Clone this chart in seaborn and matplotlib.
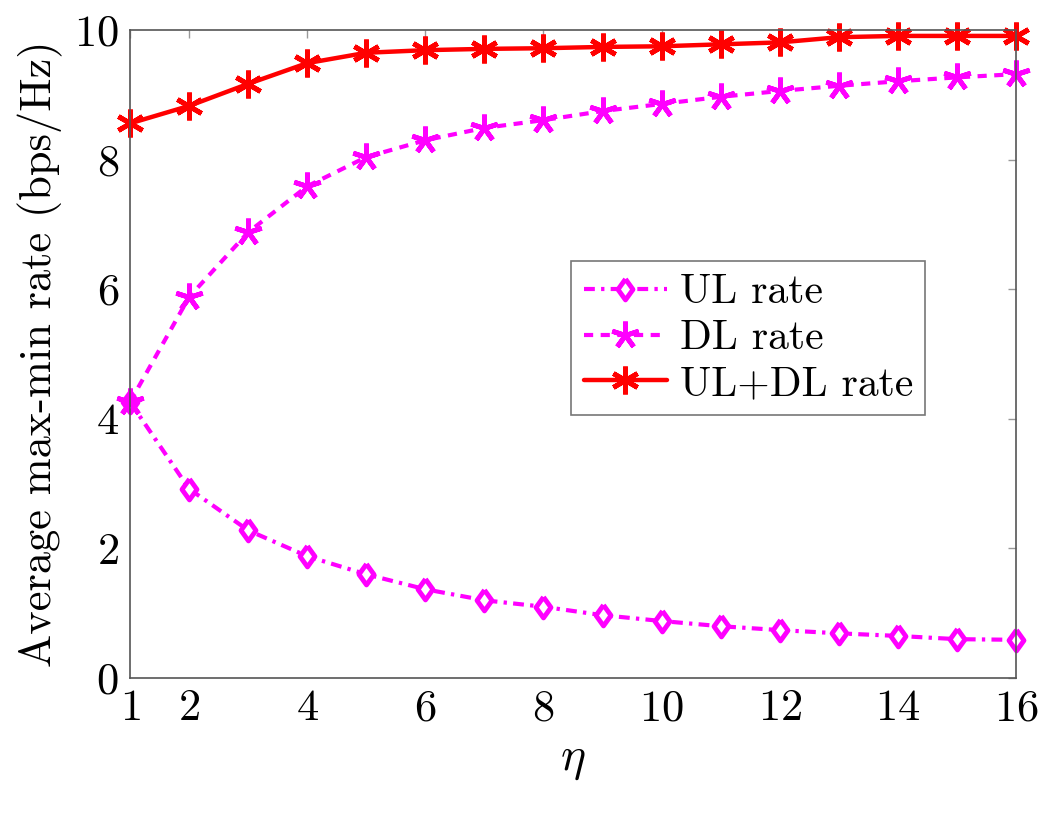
import matplotlib
matplotlib.use("Agg")
import matplotlib.pyplot as plt
import seaborn as sns
import pandas as pd

eta = list(range(1, 17))
ul_rate = [4.26, 2.92, 2.28, 1.88, 1.60, 1.37, 1.20, 1.10, 0.97, 0.88, 0.80, 0.74, 0.69, 0.65, 0.60, 0.59]
dl_rate = [4.26, 5.88, 6.88, 7.59, 8.04, 8.30, 8.49, 8.61, 8.75, 8.86, 8.97, 9.06, 9.14, 9.21, 9.27, 9.32]
sum_rate = [8.56, 8.83, 9.17, 9.49, 9.65, 9.69, 9.71, 9.72, 9.74, 9.75, 9.78, 9.81, 9.89, 9.91, 9.91, 9.91]
series_names = ["UL rate", "DL rate", "UL+DL rate"]
x_ticks = [1, 2, 4, 6, 8, 10, 12, 14, 16]
y_ticks = [0, 2, 4, 6, 8, 10]

sns.set_theme(style="white")
plt.rcParams["font.family"] = ["cmr10", "DejaVu Serif"]
plt.rcParams["mathtext.fontset"] = "cm"
plt.rcParams["axes.formatter.use_mathtext"] = True
plt.rcParams["text.color"] = "black"
plt.rcParams["axes.labelcolor"] = "black"
plt.rcParams["xtick.labelcolor"] = "black"
plt.rcParams["ytick.labelcolor"] = "black"

fig = plt.figure(figsize=(10.42, 8.13), dpi=100)
ax = fig.add_axes([0.1248, 0.166, 0.8502, 0.797])

magenta = "#ff00ff"
red = "#ff0000"
diamond = [(0, 1), (0.72, 0), (0, -1), (-0.72, 0), (0, 1)]

sns.lineplot(x=eta, y=ul_rate, ax=ax, color=magenta, lw=3.0, marker=diamond,
             markersize=15, markerfacecolor="white", markeredgecolor=magenta,
             markeredgewidth=3.5, label=series_names[0], clip_on=False)
ax.lines[-1].set_dashes([2.6, 1.5, 0.8, 1.5])
sns.lineplot(x=eta, y=dl_rate, ax=ax, color=magenta, lw=3.0, marker=(5, 2, 0),
             markersize=20, markeredgecolor=magenta, markeredgewidth=3.5,
             label=series_names[1], clip_on=False)
ax.lines[-1].set_dashes([2.2, 1.8])
sns.lineplot(x=eta, y=sum_rate, ax=ax, color=red, lw=3.2, marker=(6, 2, 0),
             markersize=20, markeredgecolor=red, markeredgewidth=3.5,
             label=series_names[2], clip_on=False)

ax.set_xlim(1, 16)
ax.set_ylim(0, 10)
ax.set_xticks(x_ticks)
ax.set_yticks(y_ticks)
ax.tick_params(direction="in", length=6, width=1, color="#999999",
               labelsize=32, labelcolor="black", top=True, right=True, pad=8)
for s in ax.spines.values():
    s.set_color("#555555")
    s.set_linewidth(1.2)

ax.set_xlabel(r"$\eta$", fontsize=34, labelpad=8, color="black")
ax.set_ylabel("Average max-min rate (bps/Hz)", fontsize=32, labelpad=8, color="black")

leg = ax.legend(loc="upper left", bbox_to_anchor=(0.498, 0.643), fontsize=30,
                frameon=True, fancybox=False, edgecolor="#555555",
                handlelength=2.0, handletextpad=0.3, borderpad=0.3,
                labelspacing=0.2, borderaxespad=0)
leg.get_frame().set_linewidth(1.2)
for t in leg.get_texts():
    t.set_color("black")

fig.savefig("out.png", dpi=100)
